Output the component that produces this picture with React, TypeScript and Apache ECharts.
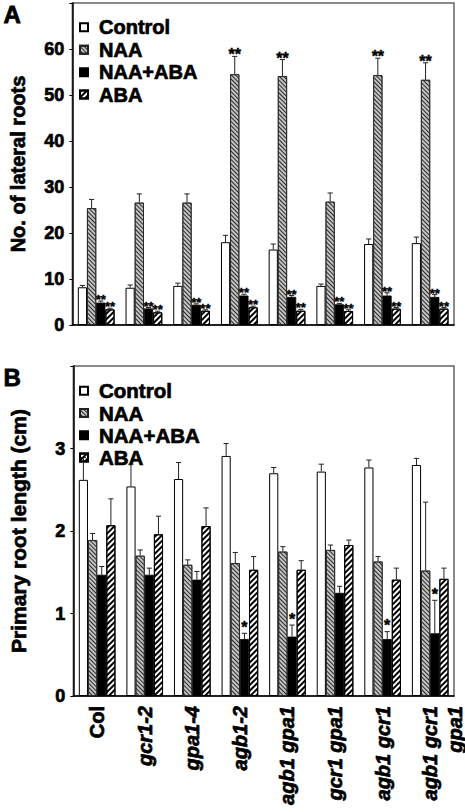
import React, { useEffect, useRef } from 'react';
import * as echarts from 'echarts';

const FONT = "'Liberation Sans', Arial, sans-serif";
const HEAVY = { textBorderColor: '#000', textBorderWidth: 0.7 };

const categories = ['Col', 'gcr1-2', 'gpa1-4', 'agb1-2', 'agb1 gpa1', 'gcr1 gpa1', 'agb1 gcr1', 'agb1 gcr1\ngpa1'];
const seriesNames = ['Control', 'NAA', 'NAA+ABA', 'ABA'];

// Panel A: number of lateral roots
const lateralControl = [8.2, 8.1, 8.5, 18.0, 16.4, 8.5, 17.6, 17.8];
const lateralControlErr = [0.4, 0.6, 0.6, 1.5, 1.2, 0.4, 1.1, 1.3];
const lateralNAA = [25.4, 26.6, 26.6, 54.5, 54.1, 26.8, 54.3, 53.3];
const lateralNAAErr = [1.9, 1.9, 1.9, 3.9, 3.6, 1.9, 3.7, 3.7];
const lateralNAAABA = [4.86, 3.6, 4.4, 6.4, 6.1, 4.5, 6.4, 6.1];
const lateralNAAABAErr = [0.35, 0.2, 0.2, 0.3, 0.3, 0.2, 0.6, 0.5];
const lateralABA = [3.4, 2.75, 3.1, 3.85, 3.1, 3.05, 3.55, 3.55];
const lateralABAErr = [0.25, 0.25, 0.2, 0.25, 0.3, 0.25, 0.25, 0.25];
const lateralStarsControl = ['', '', '', '', '', '', '', ''];
const lateralStarsNAA = ['', '', '', '**', '**', '', '**', '**'];
const lateralStarsNAAABA = ['**', '**', '**', '**', '**', '**', '**', '**'];
const lateralStarsABA = ['**', '**', '**', '**', '**', '**', '**', '**'];

// Panel B: primary root length (cm)
const primaryControl = [2.62, 2.54, 2.63, 2.91, 2.70, 2.72, 2.77, 2.80];
const primaryControlErr = [0.27, 0.27, 0.20, 0.15, 0.07, 0.09, 0.09, 0.08];
const primaryNAA = [1.89, 1.70, 1.59, 1.61, 1.75, 1.77, 1.63, 1.52];
const primaryNAAErr = [0.08, 0.07, 0.06, 0.13, 0.06, 0.06, 0.06, 0.83];
const primaryNAAABA = [1.47, 1.47, 1.41, 0.69, 0.72, 1.25, 0.69, 0.76];
const primaryNAAABAErr = [0.10, 0.08, 0.10, 0.07, 0.14, 0.08, 0.09, 0.40];
const primaryABA = [2.07, 1.96, 2.06, 1.53, 1.53, 1.83, 1.41, 1.42];
const primaryABAErr = [0.32, 0.22, 0.22, 0.16, 0.11, 0.06, 0.14, 0.13];
const primaryStarsControl = ['', '', '', '', '', '', '', ''];
const primaryStarsNAA = ['', '', '', '', '', '', '', ''];
const primaryStarsNAAABA = ['', '', '', '*', '*', '', '*', '*'];
const primaryStarsABA = ['', '', '', '', '', '', '', ''];

const lateralTicks = { min: 0, max: 70, interval: 10 };
const primaryTicks = { min: 0, max: 4, interval: 1 };

const CAT_GAP = 0.23;

const barStyles: any[] = [
  { color: '#ffffff', borderColor: '#000', borderWidth: 1 },
  {
    color: '#c2c2c2', borderColor: '#222', borderWidth: 0.8,
    decal: { symbol: 'rect', color: '#2a2a2a', dashArrayX: [1, 0], dashArrayY: [1, 2], rotation: Math.PI / 4 },
  },
  { color: '#000000', borderColor: '#000', borderWidth: 0.8 },
  {
    color: '#ffffff', borderColor: '#000', borderWidth: 1,
    decal: { symbol: 'rect', color: '#000', dashArrayX: [1, 0], dashArrayY: [2, 1.8], rotation: -Math.PI / 4 },
  },
];

function barSeries(gridIdx: number, values: number[][]) {
  return values.map((vals, k) => ({
    type: 'bar',
    name: seriesNames[k],
    xAxisIndex: gridIdx,
    yAxisIndex: gridIdx,
    data: vals,
    barGap: '0%',
    barCategoryGap: CAT_GAP * 100 + '%',
    itemStyle: barStyles[k],
    silent: true,
  }));
}

function errorSeries(gridIdx: number, values: number[][], errs: number[][], stars: string[][], starSize: number, starOffset: number) {
  const items: number[][] = [];
  const starList: string[] = [];
  for (let k = 0; k < values.length; k++) {
    for (let c = 0; c < values[k].length; c++) {
      items.push([c, k, values[k][c], values[k][c] + errs[k][c]]);
      starList.push(stars[k][c]);
    }
  }
  return {
    type: 'custom',
    xAxisIndex: gridIdx,
    yAxisIndex: gridIdx,
    z: 10,
    silent: true,
    data: items,
    encode: { x: 0, y: 3 },
    renderItem: (params: any, api: any) => {
      const c = api.value(0);
      const k = api.value(1);
      const v = api.value(2);
      const t = api.value(3);
      const p0 = api.coord([c, v]);
      const p1 = api.coord([c, t]);
      const band = api.size([1, 0])[0];
      const bw = (band * (1 - CAT_GAP)) / 4;
      const x = p0[0] + (k - 1.5) * bw;
      const star = starList[params.dataIndex];
      const children: any[] = [
        { type: 'line', shape: { x1: x, y1: p0[1], x2: x, y2: p1[1] }, style: { stroke: '#222', lineWidth: 1 } },
        { type: 'line', shape: { x1: x - 2.6, y1: p1[1], x2: x + 2.6, y2: p1[1] }, style: { stroke: '#222', lineWidth: 1 } },
      ];
      if (star) {
        const size = k === 1 ? starSize + 3 : starSize;
        children.push({
          type: 'text',
          x: x,
          y: p1[1] - starOffset,
          style: { text: star, fontSize: size, fontWeight: 'bold', fontFamily: FONT, fill: '#000', align: 'center', verticalAlign: 'middle', stroke: '#000', lineWidth: 0.4 },
        });
      }
      return { type: 'group', children };
    },
  };
}

const yAxisCommon = (gridIdx: number, ticks: any, name: string, nameSize: number) => ({
  type: 'value',
  gridIndex: gridIdx,
  min: ticks.min,
  max: ticks.max,
  interval: ticks.interval,
  name,
  nameLocation: 'middle',
  nameGap: 44,
  nameTextStyle: { fontFamily: FONT, fontWeight: 'bold', fontSize: nameSize, color: '#000', ...HEAVY },
  axisLine: { show: true, lineStyle: { color: '#000', width: 1.5 } },
  axisTick: { show: true, inside: false, length: 3, lineStyle: { color: '#000', width: 1 } },
  axisLabel: {
    margin: 8,
    fontFamily: FONT,
    fontWeight: 'bold',
    fontSize: 18,
    color: '#000',
    ...HEAVY,
    formatter: (v: number) => (v === ticks.max ? '' : String(v)),
  },
  splitLine: { show: false },
});

const legendCommon = (top: number, gap: number, size: number) => ({
  orient: 'vertical',
  left: 74,
  top,
  itemWidth: 8,
  itemHeight: 8,
  itemGap: gap,
  icon: 'rect',
  selectedMode: false,
  data: seriesNames,
  textStyle: { fontFamily: FONT, fontWeight: 'bold', fontSize: size, color: '#000', padding: [0, 0, 0, 6], ...HEAVY },
});

export default function App() {
  const ref = useRef<HTMLDivElement>(null);
  useEffect(() => {
    const chart = echarts.init(ref.current!, null, { renderer: 'svg' });
    const lateralVals = [lateralControl, lateralNAA, lateralNAAABA, lateralABA];
    const lateralErrs = [lateralControlErr, lateralNAAErr, lateralNAAABAErr, lateralABAErr];
    const lateralStars = [lateralStarsControl, lateralStarsNAA, lateralStarsNAAABA, lateralStarsABA];
    const primaryVals = [primaryControl, primaryNAA, primaryNAAABA, primaryABA];
    const primaryErrs = [primaryControlErr, primaryNAAErr, primaryNAAABAErr, primaryABAErr];
    const primaryStars = [primaryStarsControl, primaryStarsNAA, primaryStarsNAAABA, primaryStarsABA];

    const labelData = categories.map((c, i) =>
      i === categories.length - 1 ? { value: c, textStyle: { padding: [25, 0, 0, 0] } } : c
    );

    const richBase = { fontFamily: FONT, fontWeight: 'bold', fontSize: 20, color: '#000', lineHeight: 25, ...HEAVY };

    const option: any = {
      animation: false,
      backgroundColor: '#fff',
      grid: [
        { left: 63, top: 3, width: 391, height: 322, show: true, borderColor: '#666', borderWidth: 1.5, backgroundColor: 'transparent' },
        { left: 63, top: 366, width: 391, height: 330, show: true, borderColor: '#666', borderWidth: 1.5, backgroundColor: 'transparent' },
      ],
      legend: [legendCommon(12, 1.7, 20), legendCommon(375, 0.5, 20.5)],
      xAxis: [
        {
          type: 'category', gridIndex: 0, data: categories,
          axisLine: { lineStyle: { color: '#000', width: 1.5 } },
          axisTick: { show: false }, axisLabel: { show: false },
        },
        {
          type: 'category', gridIndex: 1, data: labelData,
          axisLine: { lineStyle: { color: '#000', width: 1.5 } },
          axisTick: { show: false },
          axisLabel: {
            show: true, rotate: 90, interval: 0, margin: 10,
            formatter: (v: string, i: number) =>
              i === 0 ? `{n|${v}}` : v.split('\n').map((s) => `{i|${s}}`).join('\n'),
            rich: {
              n: { ...richBase, fontStyle: 'normal' },
              i: { ...richBase, fontStyle: 'italic' },
            },
          },
        },
      ],
      yAxis: [
        yAxisCommon(0, lateralTicks, 'No. of lateral roots', 20),
        yAxisCommon(1, primaryTicks, 'Primary root length (cm)', 21),
      ],
      graphic: [
        { type: 'text', left: 3, top: 2, style: { text: 'A', fontFamily: FONT, fontWeight: 'bold', fontSize: 24, fill: '#000', stroke: '#000', lineWidth: 0.8 } },
        { type: 'text', left: 3, top: 365, style: { text: 'B', fontFamily: FONT, fontWeight: 'bold', fontSize: 24, fill: '#000', stroke: '#000', lineWidth: 0.8 } },
      ],
      series: [
        ...barSeries(0, lateralVals),
        ...barSeries(1, primaryVals),
        errorSeries(0, lateralVals, lateralErrs, lateralStars, 13, 1.5),
        errorSeries(1, primaryVals, primaryErrs, primaryStars, 16, 6),
      ],
    };
    chart.setOption(option);
    return () => chart.dispose();
  }, []);
  return <div ref={ref} style={{ position: 'fixed', left: 0, top: 0, width: 465, height: 812 }} />;
}
